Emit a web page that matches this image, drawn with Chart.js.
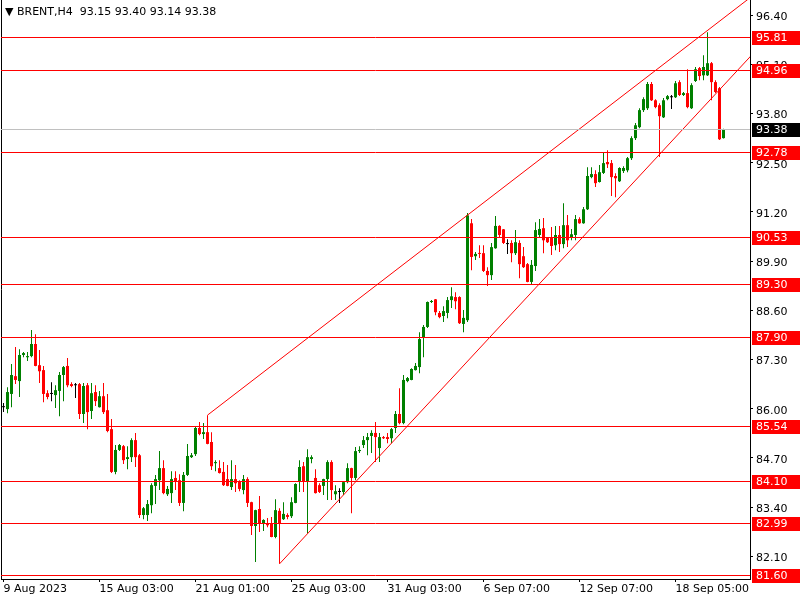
<!DOCTYPE html>
<html>
<head>
<meta charset="utf-8">
<script src="https://cdn.jsdelivr.net/npm/chart.js@4.4.0/dist/chart.umd.min.js"></script>
<style>
    html, body { margin: 0; padding: 0; background: #fff; }
    #wrap { position: relative; width: 800px; height: 600px; }
    #legend { position: absolute; left: 5px; top: 5px; font: 11px "DejaVu Sans", sans-serif; color: #000; white-space: pre; }
</style>
</head>
<body>
<div id="wrap">
    <canvas id="chart" width="800" height="600"></canvas>
    <div id="legend">▼ BRENT,H4  93.15 93.40 93.14 93.38</div>
</div>
<script>
// BRENT H4, one entry per bar (oldest first)
const opens = [
    86.04, 85.99, 86.39, 86.86, 86.73, 87.42, 87.36, 87.39, 87.71, 87.15,
    87.02, 86.41, 86.39, 86.36, 86.47, 86.89, 87.13, 86.65, 86.62, 86.65,
    85.86, 86.62, 85.94, 86.44, 86.04, 86.33, 85.96, 85.46, 84.33, 84.91,
    85.01, 84.67, 84.72, 85.17, 84.77, 83.19, 83.19, 83.45, 83.96, 84.11,
    84.43, 83.74, 83.77, 84.17, 84.11, 83.51, 84.25, 84.72, 84.80, 85.49,
    85.33, 85.38, 85.12, 84.56, 84.43, 84.33, 84.14, 83.93, 84.14, 84.09,
    83.85, 84.14, 83.53, 82.90, 83.35, 82.98, 82.98, 82.98, 82.61, 83.30,
    83.08, 83.19, 83.16, 83.51, 84.09, 84.48, 84.09, 84.67, 84.17, 83.98,
    83.96, 84.14, 84.59, 83.74, 83.80, 83.80, 84.06, 84.43, 84.17, 84.88,
    85.04, 85.17, 85.28, 85.36, 84.96, 85.25, 85.25, 85.22, 85.49, 85.86,
    85.62, 86.73, 86.76, 87.02, 87.10, 87.87, 88.16, 88.82, 88.89, 88.53,
    88.45, 88.53, 88.87, 88.95, 88.95, 88.24, 88.34, 90.90, 90.03, 90.11,
    90.11, 89.64, 89.53, 90.24, 90.83, 90.74, 90.35, 90.38, 90.11, 90.38,
    90.03, 89.82, 89.35, 89.77, 90.59, 90.77, 90.51, 90.53, 90.32, 90.59,
    90.35, 90.85, 90.53, 90.59, 91.01, 90.90, 91.27, 92.12, 92.20, 91.99,
    92.23, 92.52, 92.49, 92.15, 92.01, 92.28, 92.30, 92.62, 93.15, 93.44,
    93.89, 93.94, 94.58, 94.15, 94.02, 93.70, 94.18, 94.23, 94.23, 94.63,
    94.29, 94.34, 93.94, 94.66, 95.00, 94.81, 94.81, 95.13, 94.63, 94.47,
    93.15
];
const highs = [
    86.15, 86.57, 87.18, 87.63, 87.57, 87.50, 87.50, 88.08, 87.97, 87.55,
    87.13, 86.49, 86.70, 86.62, 86.97, 87.13, 87.34, 86.70, 86.68, 86.68,
    86.68, 86.68, 86.68, 86.62, 86.47, 86.68, 86.39, 85.73, 85.04, 85.07,
    85.04, 85.01, 85.22, 85.36, 84.80, 83.40, 83.59, 84.03, 84.25, 84.88,
    84.64, 83.96, 84.35, 84.35, 84.27, 84.33, 85.07, 84.83, 85.54, 85.65,
    85.62, 85.83, 85.38, 84.64, 84.64, 84.59, 84.51, 84.64, 84.51, 84.11,
    84.25, 84.19, 83.54, 83.33, 83.69, 83.08, 83.11, 83.14, 83.61, 83.37,
    83.53, 83.24, 83.66, 84.03, 84.64, 84.59, 84.93, 84.77, 84.40, 84.03,
    84.15, 84.64, 84.64, 83.98, 83.90, 84.07, 84.56, 84.44, 84.99, 85.01,
    85.28, 85.36, 85.43, 85.65, 85.36, 85.28, 85.36, 85.49, 85.94, 86.54,
    86.89, 86.84, 87.07, 87.21, 88.02, 88.21, 88.83, 88.87, 88.90, 88.58,
    88.71, 88.95, 89.21, 89.08, 88.97, 88.61, 91.17, 91.01, 90.14, 90.32,
    90.32, 89.74, 90.38, 91.09, 90.85, 90.75, 90.48, 90.45, 90.72, 90.45,
    90.27, 89.85, 89.93, 90.93, 91.01, 91.04, 90.53, 90.80, 90.83, 90.83,
    91.43, 91.12, 90.75, 91.12, 91.06, 91.33, 92.38, 92.38, 92.30, 92.44,
    92.78, 92.83, 92.57, 92.22, 92.38, 92.41, 92.65, 93.20, 93.55, 93.94,
    94.23, 94.63, 94.63, 94.18, 94.07, 94.21, 94.29, 94.29, 94.66, 94.68,
    94.37, 94.97, 94.60, 95.03, 95.03, 95.34, 95.95, 95.16, 94.68, 94.50,
    93.40
];
const lows = [
    85.91, 85.88, 86.04, 86.65, 86.31, 87.36, 87.26, 87.36, 87.12, 86.68,
    86.17, 86.25, 86.20, 86.02, 85.80, 86.20, 86.57, 86.57, 86.28, 85.73,
    85.62, 85.46, 85.73, 86.07, 86.03, 85.86, 85.38, 84.30, 84.27, 84.88,
    84.54, 84.40, 84.59, 84.46, 83.11, 83.08, 83.03, 83.24, 83.48, 83.85,
    83.74, 83.69, 83.51, 83.85, 83.43, 83.29, 84.22, 84.70, 84.75, 85.30,
    85.20, 85.06, 84.38, 84.35, 84.29, 83.96, 83.95, 83.85, 83.80, 83.82,
    83.74, 83.40, 82.66, 81.95, 82.74, 82.77, 82.87, 82.60, 82.58, 81.90,
    83.06, 83.08, 83.11, 83.50, 83.80, 83.80, 82.71, 84.56, 83.76, 83.77,
    83.72, 83.59, 83.59, 83.59, 83.51, 83.72, 84.03, 83.24, 84.11, 84.83,
    84.96, 84.77, 84.83, 84.59, 84.59, 85.20, 85.09, 85.09, 85.36, 85.59,
    85.59, 86.70, 86.75, 87.01, 86.94, 87.36, 88.13, 88.79, 88.47, 88.39,
    88.29, 88.39, 88.66, 88.63, 88.24, 88.02, 88.29, 89.66, 89.93, 89.98,
    89.61, 89.24, 89.40, 90.23, 90.53, 90.35, 90.09, 89.87, 90.06, 89.45,
    89.72, 89.34, 89.29, 89.64, 90.53, 90.11, 90.38, 90.06, 90.19, 90.14,
    90.24, 90.27, 90.45, 90.45, 90.89, 90.89, 91.25, 92.09, 91.86, 91.98,
    92.20, 92.36, 91.62, 91.59, 91.99, 92.23, 92.25, 92.57, 93.10, 93.41,
    93.84, 93.89, 94.13, 93.94, 92.65, 93.68, 94.15, 93.92, 94.21, 94.26,
    94.26, 93.94, 93.92, 94.63, 94.68, 94.68, 94.79, 94.15, 94.34, 93.10,
    93.14
];
const closes = [
    86.04, 86.44, 86.89, 86.76, 87.42, 87.47, 87.39, 87.71, 87.13, 86.99,
    86.39, 86.31, 86.39, 86.49, 86.89, 87.10, 86.62, 86.60, 86.62, 85.86,
    86.60, 85.91, 86.41, 86.20, 86.33, 85.91, 85.41, 84.33, 84.91, 85.04,
    84.64, 84.72, 85.17, 84.72, 83.19, 83.37, 83.48, 83.98, 84.14, 84.43,
    83.77, 83.88, 84.14, 84.09, 83.51, 84.25, 84.75, 84.77, 85.49, 85.33,
    85.38, 85.07, 84.48, 84.59, 84.30, 83.98, 83.96, 84.14, 84.03, 83.88,
    84.14, 83.51, 82.90, 83.32, 82.98, 83.06, 82.92, 82.61, 83.32, 82.98,
    83.22, 83.14, 83.53, 84.01, 84.46, 84.09, 84.72, 84.72, 83.77, 83.80,
    84.14, 84.59, 83.85, 83.82, 83.80, 84.06, 84.43, 84.17, 84.88, 84.91,
    85.17, 85.25, 85.36, 85.25, 85.25, 85.22, 85.20, 85.46, 85.86, 85.62,
    86.76, 86.81, 87.05, 87.13, 87.84, 88.16, 88.82, 88.84, 88.55, 88.42,
    88.58, 88.87, 88.97, 88.84, 88.26, 88.40, 91.11, 90.01, 90.09, 90.09,
    89.64, 89.53, 90.27, 90.83, 90.59, 90.38, 90.35, 90.11, 90.40, 89.82,
    89.74, 89.35, 89.80, 90.72, 90.75, 90.45, 90.40, 90.30, 90.59, 90.35,
    90.85, 90.45, 90.61, 91.01, 90.90, 91.27, 92.15, 92.20, 91.96, 92.25,
    92.49, 92.46, 92.12, 92.09, 92.36, 92.36, 92.62, 93.15, 93.49, 93.89,
    94.18, 94.58, 94.15, 93.97, 93.73, 94.15, 94.26, 94.23, 94.60, 94.29,
    94.34, 93.97, 94.55, 94.97, 94.79, 95.03, 95.13, 94.63, 94.37, 93.12,
    93.38
];

// time axis: a label every 24 bars
const tickBars = [0, 24, 48, 72, 96, 120, 144, 168];
const tickLabels = ['9 Aug 2023', '15 Aug 03:00', '21 Aug 01:00', '25 Aug 03:00',
    '31 Aug 03:00', '6 Sep 07:00', '12 Sep 07:00', '18 Sep 05:00'];

// price axis
const priceTicks = [96.40, 95.10, 93.80, 92.50, 91.20, 89.90, 88.60, 87.30, 86.00, 84.70, 83.40, 82.10];
const priceMin = 81.50;
const priceMax = 96.80;

// horizontal support / resistance levels and the last price
const levels = [95.81, 94.96, 92.78, 90.53, 89.30, 87.90, 85.54, 84.10, 82.99, 81.60];
const lastPrice = 93.38;

// channel lines: [bar, price] at each end
const upperTrend = [[51, 85.83], [187, 96.89]];
const lowerTrend = [[69, 81.90], [187, 95.34]];

const UP = '#008000';
const DOWN = '#ff0000';
const FLAT = '#000000';
const FONT = { family: 'DejaVu Sans', size: 11 };

const barIdx = opens.map((_, i) => i);
const candleColors = barIdx.map(i => closes[i] > opens[i] ? UP : (closes[i] < opens[i] ? DOWN : FLAT));

const levelsPlugin = {
    id: 'levels',
    afterDatasetsDraw(chart) {
        const { ctx, chartArea } = chart;
        const y = chart.scales.y;
        ctx.save();
        ctx.lineWidth = 1;

        // left frame line
        ctx.strokeStyle = '#000';
        ctx.beginPath();
        ctx.moveTo(chartArea.left + 0.5, chartArea.top);
        ctx.lineTo(chartArea.left + 0.5, chartArea.bottom);
        ctx.stroke();

        const drawLine = (value, color) => {
            const py = Math.round(y.getPixelForValue(value)) + 0.5;
            ctx.strokeStyle = color;
            ctx.beginPath();
            ctx.moveTo(chartArea.left, py);
            ctx.lineTo(chartArea.right, py);
            ctx.stroke();
        };
        drawLine(lastPrice, '#c0c0c0');
        levels.forEach(v => drawLine(v, DOWN));

        const drawBox = (value, bg) => {
            const py = Math.round(y.getPixelForValue(value));
            ctx.fillStyle = bg;
            ctx.fillRect(chartArea.right + 2, py - 6, 800 - chartArea.right - 2, 14);
            ctx.fillStyle = '#fff';
            ctx.font = '11px "DejaVu Sans"';
            ctx.textBaseline = 'middle';
            ctx.textAlign = 'left';
            ctx.fillText(value.toFixed(2), chartArea.right + 6, py + 1);
        };
        levels.forEach(v => drawBox(v, DOWN));
        drawBox(lastPrice, '#000');
        ctx.restore();
    }
};

new Chart(document.getElementById('chart'), {
    data: {
        datasets: [
            {
                type: 'line',
                data: upperTrend.map(p => ({ x: p[0], y: p[1] })),
                borderColor: DOWN,
                borderWidth: 1,
                pointRadius: 0,
                order: -1
            },
            {
                type: 'line',
                data: lowerTrend.map(p => ({ x: p[0], y: p[1] })),
                borderColor: DOWN,
                borderWidth: 1,
                pointRadius: 0,
                order: -1
            },
            {
                type: 'bar',
                data: barIdx.map(i => ({ x: i, y: [opens[i], closes[i]] })),
                backgroundColor: candleColors,
                barThickness: 3,
                minBarLength: 1,
                grouped: false,
                inflateAmount: 0,
                borderWidth: 0,
                order: 0
            },
            {
                type: 'bar',
                data: barIdx.map(i => ({ x: i, y: [lows[i], highs[i]] })),
                backgroundColor: candleColors,
                barThickness: 1,
                grouped: false,
                inflateAmount: 0,
                borderWidth: 0,
                order: 1
            }
        ]
    },
    options: {
        responsive: false,
        animation: false,
        devicePixelRatio: 1,
        layout: { padding: { left: 1, top: 0, right: 0, bottom: 0 } },
        plugins: { legend: { display: false }, tooltip: { enabled: false } },
        scales: {
            x: {
                type: 'linear',
                position: 'bottom',
                offset: false,
                min: -0.625,
                max: 186.625,
                grid: { drawOnChartArea: false, drawTicks: true, tickLength: 3, color: '#000', offset: false },
                border: { display: true, color: '#000' },
                ticks: {
                    autoSkip: false,
                    maxRotation: 0,
                    align: 'start',
                    padding: 1,
                    color: '#000',
                    font: FONT,
                    callback: v => {
                        const k = tickBars.indexOf(v);
                        return k >= 0 ? tickLabels[k] : '';
                    }
                },
                afterBuildTicks: s => { s.ticks = tickBars.map(v => ({ value: v })); },
                afterFit: s => { s.height = 21; s.paddingLeft = 0; s.paddingRight = 0; }
            },
            y: {
                type: 'linear',
                position: 'right',
                min: priceMin,
                max: priceMax,
                grid: { drawOnChartArea: false, drawTicks: true, tickLength: 3, color: '#000' },
                border: { display: true, color: '#000' },
                ticks: {
                    padding: 3,
                    labelOffset: 2,
                    color: '#000',
                    font: FONT,
                    callback: v => v.toFixed(2)
                },
                afterBuildTicks: s => { s.ticks = priceTicks.map(v => ({ value: v })); },
                afterFit: s => { s.width = 50; s.paddingTop = 0; s.paddingBottom = 0; }
            }
        }
    },
    plugins: [levelsPlugin]
});
</script>
</body>
</html>
